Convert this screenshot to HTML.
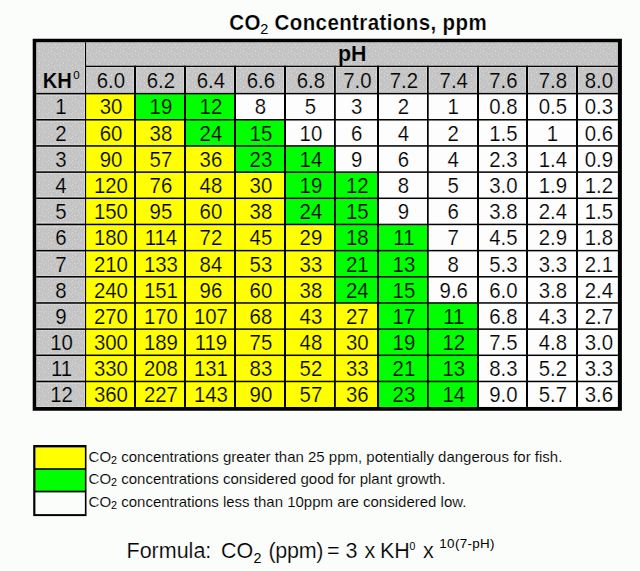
<!DOCTYPE html>
<html><head><meta charset="utf-8"><title>CO2 Concentrations, ppm</title>
<style>
html,body{margin:0;padding:0;background:#fbfdfb;}
body{width:640px;height:571px;overflow:hidden;position:relative;}
svg{position:absolute;left:0;top:0;}
svg text{font-family:"Liberation Sans",Arial,Helvetica,sans-serif;fill:#000;}
</style></head><body>
<svg width="640" height="571" viewBox="0 0 640 571">
<g font-weight="bold" font-size="20.5" letter-spacing="0.4" stroke="#fbfdfb" stroke-width="0.2" transform="translate(0 29.6) scale(1 1.06) translate(0 -29.6)">
<text x="229.2" y="29.6">CO</text>
<text x="260.3" y="33.8" font-size="14.5" font-weight="normal" letter-spacing="0" stroke="none">2</text>
<text x="274.6" y="29.6">Concentrations, ppm</text>
</g>
<defs><pattern id="dots" x="0" y="0" width="12" height="12" patternUnits="userSpaceOnUse"><rect width="12" height="12" fill="#c4c4c4"/><g fill="#d7d7d7"><rect x="0" y="1" width="1" height="1"/><rect x="0" y="4" width="1" height="1"/><rect x="0" y="8" width="1" height="1"/><rect x="2" y="11" width="1" height="1"/><rect x="3" y="2" width="1" height="1"/><rect x="3" y="3" width="1" height="1"/><rect x="3" y="6" width="1" height="1"/><rect x="5" y="11" width="1" height="1"/><rect x="6" y="5" width="1" height="1"/><rect x="6" y="7" width="1" height="1"/><rect x="7" y="9" width="1" height="1"/><rect x="8" y="0" width="1" height="1"/><rect x="9" y="5" width="1" height="1"/><rect x="9" y="11" width="1" height="1"/><rect x="11" y="6" width="1" height="1"/></g></pattern></defs>
<rect x="36.2" y="42.3" width="581.70" height="364.60" fill="url(#dots)"/>
<rect x="85.10" y="93.60" width="49.90" height="26.17" fill="#ffff00"/>
<rect x="135.00" y="93.60" width="50.00" height="26.17" fill="#00ff00"/>
<rect x="185.00" y="93.60" width="50.00" height="26.17" fill="#00ff00"/>
<rect x="235.00" y="93.60" width="50.00" height="26.17" fill="#fcfdfc"/>
<rect x="285.00" y="93.60" width="50.00" height="26.17" fill="#fcfdfc"/>
<rect x="334.80" y="93.60" width="43.20" height="26.17" fill="#fcfdfc"/>
<rect x="378.00" y="93.60" width="50.00" height="26.17" fill="#fcfdfc"/>
<rect x="427.70" y="93.60" width="50.30" height="26.17" fill="#fcfdfc"/>
<rect x="478.00" y="93.60" width="49.00" height="26.17" fill="#fcfdfc"/>
<rect x="527.00" y="93.60" width="50.00" height="26.17" fill="#fcfdfc"/>
<rect x="577.00" y="93.60" width="41.90" height="26.17" fill="#fcfdfc"/>
<rect x="85.10" y="119.77" width="49.90" height="26.17" fill="#ffff00"/>
<rect x="135.00" y="119.77" width="50.00" height="26.17" fill="#ffff00"/>
<rect x="185.00" y="119.77" width="50.00" height="26.17" fill="#00ff00"/>
<rect x="235.00" y="119.77" width="50.00" height="26.17" fill="#00ff00"/>
<rect x="285.00" y="119.77" width="50.00" height="26.17" fill="#fcfdfc"/>
<rect x="334.80" y="119.77" width="43.20" height="26.17" fill="#fcfdfc"/>
<rect x="378.00" y="119.77" width="50.00" height="26.17" fill="#fcfdfc"/>
<rect x="427.70" y="119.77" width="50.30" height="26.17" fill="#fcfdfc"/>
<rect x="478.00" y="119.77" width="49.00" height="26.17" fill="#fcfdfc"/>
<rect x="527.00" y="119.77" width="50.00" height="26.17" fill="#fcfdfc"/>
<rect x="577.00" y="119.77" width="41.90" height="26.17" fill="#fcfdfc"/>
<rect x="85.10" y="145.94" width="49.90" height="26.17" fill="#ffff00"/>
<rect x="135.00" y="145.94" width="50.00" height="26.17" fill="#ffff00"/>
<rect x="185.00" y="145.94" width="50.00" height="26.17" fill="#ffff00"/>
<rect x="235.00" y="145.94" width="50.00" height="26.17" fill="#00ff00"/>
<rect x="285.00" y="145.94" width="50.00" height="26.17" fill="#00ff00"/>
<rect x="334.80" y="145.94" width="43.20" height="26.17" fill="#fcfdfc"/>
<rect x="378.00" y="145.94" width="50.00" height="26.17" fill="#fcfdfc"/>
<rect x="427.70" y="145.94" width="50.30" height="26.17" fill="#fcfdfc"/>
<rect x="478.00" y="145.94" width="49.00" height="26.17" fill="#fcfdfc"/>
<rect x="527.00" y="145.94" width="50.00" height="26.17" fill="#fcfdfc"/>
<rect x="577.00" y="145.94" width="41.90" height="26.17" fill="#fcfdfc"/>
<rect x="85.10" y="172.11" width="49.90" height="26.17" fill="#ffff00"/>
<rect x="135.00" y="172.11" width="50.00" height="26.17" fill="#ffff00"/>
<rect x="185.00" y="172.11" width="50.00" height="26.17" fill="#ffff00"/>
<rect x="235.00" y="172.11" width="50.00" height="26.17" fill="#ffff00"/>
<rect x="285.00" y="172.11" width="50.00" height="26.17" fill="#00ff00"/>
<rect x="334.80" y="172.11" width="43.20" height="26.17" fill="#00ff00"/>
<rect x="378.00" y="172.11" width="50.00" height="26.17" fill="#fcfdfc"/>
<rect x="427.70" y="172.11" width="50.30" height="26.17" fill="#fcfdfc"/>
<rect x="478.00" y="172.11" width="49.00" height="26.17" fill="#fcfdfc"/>
<rect x="527.00" y="172.11" width="50.00" height="26.17" fill="#fcfdfc"/>
<rect x="577.00" y="172.11" width="41.90" height="26.17" fill="#fcfdfc"/>
<rect x="85.10" y="198.28" width="49.90" height="26.17" fill="#ffff00"/>
<rect x="135.00" y="198.28" width="50.00" height="26.17" fill="#ffff00"/>
<rect x="185.00" y="198.28" width="50.00" height="26.17" fill="#ffff00"/>
<rect x="235.00" y="198.28" width="50.00" height="26.17" fill="#ffff00"/>
<rect x="285.00" y="198.28" width="50.00" height="26.17" fill="#00ff00"/>
<rect x="334.80" y="198.28" width="43.20" height="26.17" fill="#00ff00"/>
<rect x="378.00" y="198.28" width="50.00" height="26.17" fill="#fcfdfc"/>
<rect x="427.70" y="198.28" width="50.30" height="26.17" fill="#fcfdfc"/>
<rect x="478.00" y="198.28" width="49.00" height="26.17" fill="#fcfdfc"/>
<rect x="527.00" y="198.28" width="50.00" height="26.17" fill="#fcfdfc"/>
<rect x="577.00" y="198.28" width="41.90" height="26.17" fill="#fcfdfc"/>
<rect x="85.10" y="224.45" width="49.90" height="26.17" fill="#ffff00"/>
<rect x="135.00" y="224.45" width="50.00" height="26.17" fill="#ffff00"/>
<rect x="185.00" y="224.45" width="50.00" height="26.17" fill="#ffff00"/>
<rect x="235.00" y="224.45" width="50.00" height="26.17" fill="#ffff00"/>
<rect x="285.00" y="224.45" width="50.00" height="26.17" fill="#ffff00"/>
<rect x="334.80" y="224.45" width="43.20" height="26.17" fill="#00ff00"/>
<rect x="378.00" y="224.45" width="50.00" height="26.17" fill="#00ff00"/>
<rect x="427.70" y="224.45" width="50.30" height="26.17" fill="#fcfdfc"/>
<rect x="478.00" y="224.45" width="49.00" height="26.17" fill="#fcfdfc"/>
<rect x="527.00" y="224.45" width="50.00" height="26.17" fill="#fcfdfc"/>
<rect x="577.00" y="224.45" width="41.90" height="26.17" fill="#fcfdfc"/>
<rect x="85.10" y="250.62" width="49.90" height="26.17" fill="#ffff00"/>
<rect x="135.00" y="250.62" width="50.00" height="26.17" fill="#ffff00"/>
<rect x="185.00" y="250.62" width="50.00" height="26.17" fill="#ffff00"/>
<rect x="235.00" y="250.62" width="50.00" height="26.17" fill="#ffff00"/>
<rect x="285.00" y="250.62" width="50.00" height="26.17" fill="#ffff00"/>
<rect x="334.80" y="250.62" width="43.20" height="26.17" fill="#00ff00"/>
<rect x="378.00" y="250.62" width="50.00" height="26.17" fill="#00ff00"/>
<rect x="427.70" y="250.62" width="50.30" height="26.17" fill="#fcfdfc"/>
<rect x="478.00" y="250.62" width="49.00" height="26.17" fill="#fcfdfc"/>
<rect x="527.00" y="250.62" width="50.00" height="26.17" fill="#fcfdfc"/>
<rect x="577.00" y="250.62" width="41.90" height="26.17" fill="#fcfdfc"/>
<rect x="85.10" y="276.79" width="49.90" height="26.17" fill="#ffff00"/>
<rect x="135.00" y="276.79" width="50.00" height="26.17" fill="#ffff00"/>
<rect x="185.00" y="276.79" width="50.00" height="26.17" fill="#ffff00"/>
<rect x="235.00" y="276.79" width="50.00" height="26.17" fill="#ffff00"/>
<rect x="285.00" y="276.79" width="50.00" height="26.17" fill="#ffff00"/>
<rect x="334.80" y="276.79" width="43.20" height="26.17" fill="#00ff00"/>
<rect x="378.00" y="276.79" width="50.00" height="26.17" fill="#00ff00"/>
<rect x="427.70" y="276.79" width="50.30" height="26.17" fill="#fcfdfc"/>
<rect x="478.00" y="276.79" width="49.00" height="26.17" fill="#fcfdfc"/>
<rect x="527.00" y="276.79" width="50.00" height="26.17" fill="#fcfdfc"/>
<rect x="577.00" y="276.79" width="41.90" height="26.17" fill="#fcfdfc"/>
<rect x="85.10" y="302.96" width="49.90" height="26.17" fill="#ffff00"/>
<rect x="135.00" y="302.96" width="50.00" height="26.17" fill="#ffff00"/>
<rect x="185.00" y="302.96" width="50.00" height="26.17" fill="#ffff00"/>
<rect x="235.00" y="302.96" width="50.00" height="26.17" fill="#ffff00"/>
<rect x="285.00" y="302.96" width="50.00" height="26.17" fill="#ffff00"/>
<rect x="334.80" y="302.96" width="43.20" height="26.17" fill="#ffff00"/>
<rect x="378.00" y="302.96" width="50.00" height="26.17" fill="#00ff00"/>
<rect x="427.70" y="302.96" width="50.30" height="26.17" fill="#00ff00"/>
<rect x="478.00" y="302.96" width="49.00" height="26.17" fill="#fcfdfc"/>
<rect x="527.00" y="302.96" width="50.00" height="26.17" fill="#fcfdfc"/>
<rect x="577.00" y="302.96" width="41.90" height="26.17" fill="#fcfdfc"/>
<rect x="85.10" y="329.13" width="49.90" height="26.17" fill="#ffff00"/>
<rect x="135.00" y="329.13" width="50.00" height="26.17" fill="#ffff00"/>
<rect x="185.00" y="329.13" width="50.00" height="26.17" fill="#ffff00"/>
<rect x="235.00" y="329.13" width="50.00" height="26.17" fill="#ffff00"/>
<rect x="285.00" y="329.13" width="50.00" height="26.17" fill="#ffff00"/>
<rect x="334.80" y="329.13" width="43.20" height="26.17" fill="#ffff00"/>
<rect x="378.00" y="329.13" width="50.00" height="26.17" fill="#00ff00"/>
<rect x="427.70" y="329.13" width="50.30" height="26.17" fill="#00ff00"/>
<rect x="478.00" y="329.13" width="49.00" height="26.17" fill="#fcfdfc"/>
<rect x="527.00" y="329.13" width="50.00" height="26.17" fill="#fcfdfc"/>
<rect x="577.00" y="329.13" width="41.90" height="26.17" fill="#fcfdfc"/>
<rect x="85.10" y="355.30" width="49.90" height="26.17" fill="#ffff00"/>
<rect x="135.00" y="355.30" width="50.00" height="26.17" fill="#ffff00"/>
<rect x="185.00" y="355.30" width="50.00" height="26.17" fill="#ffff00"/>
<rect x="235.00" y="355.30" width="50.00" height="26.17" fill="#ffff00"/>
<rect x="285.00" y="355.30" width="50.00" height="26.17" fill="#ffff00"/>
<rect x="334.80" y="355.30" width="43.20" height="26.17" fill="#ffff00"/>
<rect x="378.00" y="355.30" width="50.00" height="26.17" fill="#00ff00"/>
<rect x="427.70" y="355.30" width="50.30" height="26.17" fill="#00ff00"/>
<rect x="478.00" y="355.30" width="49.00" height="26.17" fill="#fcfdfc"/>
<rect x="527.00" y="355.30" width="50.00" height="26.17" fill="#fcfdfc"/>
<rect x="577.00" y="355.30" width="41.90" height="26.17" fill="#fcfdfc"/>
<rect x="85.10" y="381.47" width="49.90" height="25.43" fill="#ffff00"/>
<rect x="135.00" y="381.47" width="50.00" height="25.43" fill="#ffff00"/>
<rect x="185.00" y="381.47" width="50.00" height="25.43" fill="#ffff00"/>
<rect x="235.00" y="381.47" width="50.00" height="25.43" fill="#ffff00"/>
<rect x="285.00" y="381.47" width="50.00" height="25.43" fill="#ffff00"/>
<rect x="334.80" y="381.47" width="43.20" height="25.43" fill="#ffff00"/>
<rect x="378.00" y="381.47" width="50.00" height="25.43" fill="#00ff00"/>
<rect x="427.70" y="381.47" width="50.30" height="25.43" fill="#00ff00"/>
<rect x="478.00" y="381.47" width="49.00" height="25.43" fill="#fcfdfc"/>
<rect x="527.00" y="381.47" width="50.00" height="25.43" fill="#fcfdfc"/>
<rect x="577.00" y="381.47" width="41.90" height="25.43" fill="#fcfdfc"/>
<rect x="36.5" y="42.5" width="48" height="50" fill="none" stroke="#d3d3d3" stroke-width="1"/>
<rect x="86.5" y="42.5" width="531" height="23" fill="none" stroke="#d3d3d3" stroke-width="1"/>
<rect x="86.5" y="67.5" width="47" height="25" fill="none" stroke="#d3d3d3" stroke-width="1"/>
<rect x="136.5" y="67.5" width="47" height="25" fill="none" stroke="#d3d3d3" stroke-width="1"/>
<rect x="186.5" y="67.5" width="47" height="25" fill="none" stroke="#d3d3d3" stroke-width="1"/>
<rect x="236.5" y="67.5" width="47" height="25" fill="none" stroke="#d3d3d3" stroke-width="1"/>
<rect x="286.5" y="67.5" width="47" height="25" fill="none" stroke="#d3d3d3" stroke-width="1"/>
<rect x="336.5" y="67.5" width="40" height="25" fill="none" stroke="#d3d3d3" stroke-width="1"/>
<rect x="379.5" y="67.5" width="47" height="25" fill="none" stroke="#d3d3d3" stroke-width="1"/>
<rect x="429.5" y="67.5" width="47" height="25" fill="none" stroke="#d3d3d3" stroke-width="1"/>
<rect x="479.5" y="67.5" width="46" height="25" fill="none" stroke="#d3d3d3" stroke-width="1"/>
<rect x="528.5" y="67.5" width="47" height="25" fill="none" stroke="#d3d3d3" stroke-width="1"/>
<rect x="578.5" y="67.5" width="39" height="25" fill="none" stroke="#d3d3d3" stroke-width="1"/>
<rect x="36.5" y="95.5" width="48" height="23" fill="none" stroke="#d3d3d3" stroke-width="1"/>
<rect x="36.5" y="121.5" width="48" height="23" fill="none" stroke="#d3d3d3" stroke-width="1"/>
<rect x="36.5" y="147.5" width="48" height="23" fill="none" stroke="#d3d3d3" stroke-width="1"/>
<rect x="36.5" y="173.5" width="48" height="23" fill="none" stroke="#d3d3d3" stroke-width="1"/>
<rect x="36.5" y="199.5" width="48" height="23" fill="none" stroke="#d3d3d3" stroke-width="1"/>
<rect x="36.5" y="226.5" width="48" height="23" fill="none" stroke="#d3d3d3" stroke-width="1"/>
<rect x="36.5" y="252.5" width="48" height="23" fill="none" stroke="#d3d3d3" stroke-width="1"/>
<rect x="36.5" y="278.5" width="48" height="23" fill="none" stroke="#d3d3d3" stroke-width="1"/>
<rect x="36.5" y="304.5" width="48" height="23" fill="none" stroke="#d3d3d3" stroke-width="1"/>
<rect x="36.5" y="330.5" width="48" height="23" fill="none" stroke="#d3d3d3" stroke-width="1"/>
<rect x="36.5" y="356.5" width="48" height="23" fill="none" stroke="#d3d3d3" stroke-width="1"/>
<rect x="36.5" y="383.5" width="48" height="23" fill="none" stroke="#d3d3d3" stroke-width="1"/>
<rect x="85.0" y="42.3" width="1.1" height="364.60"/>
<rect x="134" y="65.7" width="2" height="341.20"/>
<rect x="184" y="65.7" width="2" height="341.20"/>
<rect x="234" y="65.7" width="2" height="341.20"/>
<rect x="284" y="65.7" width="2" height="341.20"/>
<rect x="334" y="65.7" width="1.8" height="341.20"/>
<rect x="377" y="65.7" width="2" height="341.20"/>
<rect x="427" y="65.7" width="1.7" height="341.20"/>
<rect x="477" y="65.7" width="2" height="341.20"/>
<rect x="526" y="65.7" width="2" height="341.20"/>
<rect x="576" y="65.7" width="2" height="341.20"/>
<rect x="85.0" y="65.7" width="532.90" height="1.3"/>
<rect x="36.2" y="92.85" width="581.70" height="1.5"/>
<rect x="36.2" y="119.02" width="581.70" height="1.5"/>
<rect x="36.2" y="145.19" width="581.70" height="1.5"/>
<rect x="36.2" y="171.36" width="581.70" height="1.5"/>
<rect x="36.2" y="197.53" width="581.70" height="1.5"/>
<rect x="36.2" y="223.70" width="581.70" height="1.5"/>
<rect x="36.2" y="249.87" width="581.70" height="1.5"/>
<rect x="36.2" y="276.04" width="581.70" height="1.5"/>
<rect x="36.2" y="302.21" width="581.70" height="1.5"/>
<rect x="36.2" y="328.38" width="581.70" height="1.5"/>
<rect x="36.2" y="354.55" width="581.70" height="1.5"/>
<rect x="36.2" y="380.72" width="581.70" height="1.5"/>
<path d="M32.7 38.7H621.9V410.8H32.7Z M36.2 42.3V406.9H617.9V42.3Z" fill-rule="evenodd"/>
<g font-size="21">
<text transform="translate(352.25 60.60) scale(1.02 1.04)" text-anchor="middle" stroke="#c5c5c5" stroke-width="0.2" font-weight="bold">pH</text>
<text transform="translate(42.80 87.80) scale(0.96 1.05)" text-anchor="start" stroke="#c5c5c5" stroke-width="0.2" font-weight="bold">KH</text>
<text x="73.3" y="78.8" font-size="11.5" stroke="none">0</text>
<text transform="translate(110.95 88.30) scale(0.97 1.05)" text-anchor="middle" stroke="#c5c5c5" stroke-width="0.2">6.0</text>
<text transform="translate(160.90 88.30) scale(0.97 1.05)" text-anchor="middle" stroke="#c5c5c5" stroke-width="0.2">6.2</text>
<text transform="translate(210.90 88.30) scale(0.97 1.05)" text-anchor="middle" stroke="#c5c5c5" stroke-width="0.2">6.4</text>
<text transform="translate(260.90 88.30) scale(0.97 1.05)" text-anchor="middle" stroke="#c5c5c5" stroke-width="0.2">6.6</text>
<text transform="translate(310.90 88.30) scale(0.97 1.05)" text-anchor="middle" stroke="#c5c5c5" stroke-width="0.2">6.8</text>
<text transform="translate(357.30 88.30) scale(0.97 1.05)" text-anchor="middle" stroke="#c5c5c5" stroke-width="0.2">7.0</text>
<text transform="translate(403.90 88.30) scale(0.97 1.05)" text-anchor="middle" stroke="#c5c5c5" stroke-width="0.2">7.2</text>
<text transform="translate(453.75 88.30) scale(0.97 1.05)" text-anchor="middle" stroke="#c5c5c5" stroke-width="0.2">7.4</text>
<text transform="translate(503.40 88.30) scale(0.97 1.05)" text-anchor="middle" stroke="#c5c5c5" stroke-width="0.2">7.6</text>
<text transform="translate(552.90 88.30) scale(0.97 1.05)" text-anchor="middle" stroke="#c5c5c5" stroke-width="0.2">7.8</text>
<text transform="translate(598.85 88.30) scale(0.97 1.05)" text-anchor="middle" stroke="#c5c5c5" stroke-width="0.2">8.0</text>
<text transform="translate(60.90 114.48) scale(0.97 1.05)" text-anchor="middle" stroke="#c5c5c5" stroke-width="0.2">1</text>
<text transform="translate(110.95 114.48) scale(0.97 1.05)" text-anchor="middle" stroke="#ffff00" stroke-width="0.2">30</text>
<text transform="translate(160.90 114.48) scale(0.97 1.05)" text-anchor="middle" stroke="#00ff00" stroke-width="0.2">19</text>
<text transform="translate(210.90 114.48) scale(0.97 1.05)" text-anchor="middle" stroke="#00ff00" stroke-width="0.2">12</text>
<text transform="translate(260.30 114.48) scale(0.97 1.05)" text-anchor="middle" stroke="#fcfdfc" stroke-width="0.2">8</text>
<text transform="translate(310.30 114.48) scale(0.97 1.05)" text-anchor="middle" stroke="#fcfdfc" stroke-width="0.2">5</text>
<text transform="translate(356.70 114.48) scale(0.97 1.05)" text-anchor="middle" stroke="#fcfdfc" stroke-width="0.2">3</text>
<text transform="translate(403.30 114.48) scale(0.97 1.05)" text-anchor="middle" stroke="#fcfdfc" stroke-width="0.2">2</text>
<text transform="translate(453.15 114.48) scale(0.97 1.05)" text-anchor="middle" stroke="#fcfdfc" stroke-width="0.2">1</text>
<text transform="translate(503.40 114.48) scale(0.97 1.05)" text-anchor="middle" stroke="#fcfdfc" stroke-width="0.2">0.8</text>
<text transform="translate(552.90 114.48) scale(0.97 1.05)" text-anchor="middle" stroke="#fcfdfc" stroke-width="0.2">0.5</text>
<text transform="translate(598.85 114.48) scale(0.97 1.05)" text-anchor="middle" stroke="#fcfdfc" stroke-width="0.2">0.3</text>
<text transform="translate(60.90 140.66) scale(0.97 1.05)" text-anchor="middle" stroke="#c5c5c5" stroke-width="0.2">2</text>
<text transform="translate(110.95 140.66) scale(0.97 1.05)" text-anchor="middle" stroke="#ffff00" stroke-width="0.2">60</text>
<text transform="translate(160.90 140.66) scale(0.97 1.05)" text-anchor="middle" stroke="#ffff00" stroke-width="0.2">38</text>
<text transform="translate(210.90 140.66) scale(0.97 1.05)" text-anchor="middle" stroke="#00ff00" stroke-width="0.2">24</text>
<text transform="translate(260.90 140.66) scale(0.97 1.05)" text-anchor="middle" stroke="#00ff00" stroke-width="0.2">15</text>
<text transform="translate(310.90 140.66) scale(0.97 1.05)" text-anchor="middle" stroke="#fcfdfc" stroke-width="0.2">10</text>
<text transform="translate(356.70 140.66) scale(0.97 1.05)" text-anchor="middle" stroke="#fcfdfc" stroke-width="0.2">6</text>
<text transform="translate(403.30 140.66) scale(0.97 1.05)" text-anchor="middle" stroke="#fcfdfc" stroke-width="0.2">4</text>
<text transform="translate(453.15 140.66) scale(0.97 1.05)" text-anchor="middle" stroke="#fcfdfc" stroke-width="0.2">2</text>
<text transform="translate(503.40 140.66) scale(0.97 1.05)" text-anchor="middle" stroke="#fcfdfc" stroke-width="0.2">1.5</text>
<text transform="translate(552.30 140.66) scale(0.97 1.05)" text-anchor="middle" stroke="#fcfdfc" stroke-width="0.2">1</text>
<text transform="translate(598.85 140.66) scale(0.97 1.05)" text-anchor="middle" stroke="#fcfdfc" stroke-width="0.2">0.6</text>
<text transform="translate(60.90 166.83) scale(0.97 1.05)" text-anchor="middle" stroke="#c5c5c5" stroke-width="0.2">3</text>
<text transform="translate(110.95 166.83) scale(0.97 1.05)" text-anchor="middle" stroke="#ffff00" stroke-width="0.2">90</text>
<text transform="translate(160.90 166.83) scale(0.97 1.05)" text-anchor="middle" stroke="#ffff00" stroke-width="0.2">57</text>
<text transform="translate(210.90 166.83) scale(0.97 1.05)" text-anchor="middle" stroke="#ffff00" stroke-width="0.2">36</text>
<text transform="translate(260.90 166.83) scale(0.97 1.05)" text-anchor="middle" stroke="#00ff00" stroke-width="0.2">23</text>
<text transform="translate(310.90 166.83) scale(0.97 1.05)" text-anchor="middle" stroke="#00ff00" stroke-width="0.2">14</text>
<text transform="translate(356.70 166.83) scale(0.97 1.05)" text-anchor="middle" stroke="#fcfdfc" stroke-width="0.2">9</text>
<text transform="translate(403.30 166.83) scale(0.97 1.05)" text-anchor="middle" stroke="#fcfdfc" stroke-width="0.2">6</text>
<text transform="translate(453.15 166.83) scale(0.97 1.05)" text-anchor="middle" stroke="#fcfdfc" stroke-width="0.2">4</text>
<text transform="translate(503.40 166.83) scale(0.97 1.05)" text-anchor="middle" stroke="#fcfdfc" stroke-width="0.2">2.3</text>
<text transform="translate(552.90 166.83) scale(0.97 1.05)" text-anchor="middle" stroke="#fcfdfc" stroke-width="0.2">1.4</text>
<text transform="translate(598.85 166.83) scale(0.97 1.05)" text-anchor="middle" stroke="#fcfdfc" stroke-width="0.2">0.9</text>
<text transform="translate(60.90 193.00) scale(0.97 1.05)" text-anchor="middle" stroke="#c5c5c5" stroke-width="0.2">4</text>
<text transform="translate(110.95 193.00) scale(0.97 1.05)" text-anchor="middle" stroke="#ffff00" stroke-width="0.2">120</text>
<text transform="translate(160.90 193.00) scale(0.97 1.05)" text-anchor="middle" stroke="#ffff00" stroke-width="0.2">76</text>
<text transform="translate(210.90 193.00) scale(0.97 1.05)" text-anchor="middle" stroke="#ffff00" stroke-width="0.2">48</text>
<text transform="translate(260.90 193.00) scale(0.97 1.05)" text-anchor="middle" stroke="#ffff00" stroke-width="0.2">30</text>
<text transform="translate(310.90 193.00) scale(0.97 1.05)" text-anchor="middle" stroke="#00ff00" stroke-width="0.2">19</text>
<text transform="translate(357.30 193.00) scale(0.97 1.05)" text-anchor="middle" stroke="#00ff00" stroke-width="0.2">12</text>
<text transform="translate(403.30 193.00) scale(0.97 1.05)" text-anchor="middle" stroke="#fcfdfc" stroke-width="0.2">8</text>
<text transform="translate(453.15 193.00) scale(0.97 1.05)" text-anchor="middle" stroke="#fcfdfc" stroke-width="0.2">5</text>
<text transform="translate(503.40 193.00) scale(0.97 1.05)" text-anchor="middle" stroke="#fcfdfc" stroke-width="0.2">3.0</text>
<text transform="translate(552.90 193.00) scale(0.97 1.05)" text-anchor="middle" stroke="#fcfdfc" stroke-width="0.2">1.9</text>
<text transform="translate(598.85 193.00) scale(0.97 1.05)" text-anchor="middle" stroke="#fcfdfc" stroke-width="0.2">1.2</text>
<text transform="translate(60.90 219.17) scale(0.97 1.05)" text-anchor="middle" stroke="#c5c5c5" stroke-width="0.2">5</text>
<text transform="translate(110.95 219.17) scale(0.97 1.05)" text-anchor="middle" stroke="#ffff00" stroke-width="0.2">150</text>
<text transform="translate(160.90 219.17) scale(0.97 1.05)" text-anchor="middle" stroke="#ffff00" stroke-width="0.2">95</text>
<text transform="translate(210.90 219.17) scale(0.97 1.05)" text-anchor="middle" stroke="#ffff00" stroke-width="0.2">60</text>
<text transform="translate(260.90 219.17) scale(0.97 1.05)" text-anchor="middle" stroke="#ffff00" stroke-width="0.2">38</text>
<text transform="translate(310.90 219.17) scale(0.97 1.05)" text-anchor="middle" stroke="#00ff00" stroke-width="0.2">24</text>
<text transform="translate(357.30 219.17) scale(0.97 1.05)" text-anchor="middle" stroke="#00ff00" stroke-width="0.2">15</text>
<text transform="translate(403.30 219.17) scale(0.97 1.05)" text-anchor="middle" stroke="#fcfdfc" stroke-width="0.2">9</text>
<text transform="translate(453.15 219.17) scale(0.97 1.05)" text-anchor="middle" stroke="#fcfdfc" stroke-width="0.2">6</text>
<text transform="translate(503.40 219.17) scale(0.97 1.05)" text-anchor="middle" stroke="#fcfdfc" stroke-width="0.2">3.8</text>
<text transform="translate(552.90 219.17) scale(0.97 1.05)" text-anchor="middle" stroke="#fcfdfc" stroke-width="0.2">2.4</text>
<text transform="translate(598.85 219.17) scale(0.97 1.05)" text-anchor="middle" stroke="#fcfdfc" stroke-width="0.2">1.5</text>
<text transform="translate(60.90 245.34) scale(0.97 1.05)" text-anchor="middle" stroke="#c5c5c5" stroke-width="0.2">6</text>
<text transform="translate(110.95 245.34) scale(0.97 1.05)" text-anchor="middle" stroke="#ffff00" stroke-width="0.2">180</text>
<text transform="translate(160.90 245.34) scale(0.97 1.05)" text-anchor="middle" stroke="#ffff00" stroke-width="0.2">114</text>
<text transform="translate(210.90 245.34) scale(0.97 1.05)" text-anchor="middle" stroke="#ffff00" stroke-width="0.2">72</text>
<text transform="translate(260.90 245.34) scale(0.97 1.05)" text-anchor="middle" stroke="#ffff00" stroke-width="0.2">45</text>
<text transform="translate(310.90 245.34) scale(0.97 1.05)" text-anchor="middle" stroke="#ffff00" stroke-width="0.2">29</text>
<text transform="translate(357.30 245.34) scale(0.97 1.05)" text-anchor="middle" stroke="#00ff00" stroke-width="0.2">18</text>
<text transform="translate(403.90 245.34) scale(0.97 1.05)" text-anchor="middle" stroke="#00ff00" stroke-width="0.2">11</text>
<text transform="translate(453.15 245.34) scale(0.97 1.05)" text-anchor="middle" stroke="#fcfdfc" stroke-width="0.2">7</text>
<text transform="translate(503.40 245.34) scale(0.97 1.05)" text-anchor="middle" stroke="#fcfdfc" stroke-width="0.2">4.5</text>
<text transform="translate(552.90 245.34) scale(0.97 1.05)" text-anchor="middle" stroke="#fcfdfc" stroke-width="0.2">2.9</text>
<text transform="translate(598.85 245.34) scale(0.97 1.05)" text-anchor="middle" stroke="#fcfdfc" stroke-width="0.2">1.8</text>
<text transform="translate(60.90 271.50) scale(0.97 1.05)" text-anchor="middle" stroke="#c5c5c5" stroke-width="0.2">7</text>
<text transform="translate(110.95 271.50) scale(0.97 1.05)" text-anchor="middle" stroke="#ffff00" stroke-width="0.2">210</text>
<text transform="translate(160.90 271.50) scale(0.97 1.05)" text-anchor="middle" stroke="#ffff00" stroke-width="0.2">133</text>
<text transform="translate(210.90 271.50) scale(0.97 1.05)" text-anchor="middle" stroke="#ffff00" stroke-width="0.2">84</text>
<text transform="translate(260.90 271.50) scale(0.97 1.05)" text-anchor="middle" stroke="#ffff00" stroke-width="0.2">53</text>
<text transform="translate(310.90 271.50) scale(0.97 1.05)" text-anchor="middle" stroke="#ffff00" stroke-width="0.2">33</text>
<text transform="translate(357.30 271.50) scale(0.97 1.05)" text-anchor="middle" stroke="#00ff00" stroke-width="0.2">21</text>
<text transform="translate(403.90 271.50) scale(0.97 1.05)" text-anchor="middle" stroke="#00ff00" stroke-width="0.2">13</text>
<text transform="translate(453.15 271.50) scale(0.97 1.05)" text-anchor="middle" stroke="#fcfdfc" stroke-width="0.2">8</text>
<text transform="translate(503.40 271.50) scale(0.97 1.05)" text-anchor="middle" stroke="#fcfdfc" stroke-width="0.2">5.3</text>
<text transform="translate(552.90 271.50) scale(0.97 1.05)" text-anchor="middle" stroke="#fcfdfc" stroke-width="0.2">3.3</text>
<text transform="translate(598.85 271.50) scale(0.97 1.05)" text-anchor="middle" stroke="#fcfdfc" stroke-width="0.2">2.1</text>
<text transform="translate(60.90 297.68) scale(0.97 1.05)" text-anchor="middle" stroke="#c5c5c5" stroke-width="0.2">8</text>
<text transform="translate(110.95 297.68) scale(0.97 1.05)" text-anchor="middle" stroke="#ffff00" stroke-width="0.2">240</text>
<text transform="translate(160.90 297.68) scale(0.97 1.05)" text-anchor="middle" stroke="#ffff00" stroke-width="0.2">151</text>
<text transform="translate(210.90 297.68) scale(0.97 1.05)" text-anchor="middle" stroke="#ffff00" stroke-width="0.2">96</text>
<text transform="translate(260.90 297.68) scale(0.97 1.05)" text-anchor="middle" stroke="#ffff00" stroke-width="0.2">60</text>
<text transform="translate(310.90 297.68) scale(0.97 1.05)" text-anchor="middle" stroke="#ffff00" stroke-width="0.2">38</text>
<text transform="translate(357.30 297.68) scale(0.97 1.05)" text-anchor="middle" stroke="#00ff00" stroke-width="0.2">24</text>
<text transform="translate(403.90 297.68) scale(0.97 1.05)" text-anchor="middle" stroke="#00ff00" stroke-width="0.2">15</text>
<text transform="translate(453.75 297.68) scale(0.97 1.05)" text-anchor="middle" stroke="#fcfdfc" stroke-width="0.2">9.6</text>
<text transform="translate(503.40 297.68) scale(0.97 1.05)" text-anchor="middle" stroke="#fcfdfc" stroke-width="0.2">6.0</text>
<text transform="translate(552.90 297.68) scale(0.97 1.05)" text-anchor="middle" stroke="#fcfdfc" stroke-width="0.2">3.8</text>
<text transform="translate(598.85 297.68) scale(0.97 1.05)" text-anchor="middle" stroke="#fcfdfc" stroke-width="0.2">2.4</text>
<text transform="translate(60.90 323.85) scale(0.97 1.05)" text-anchor="middle" stroke="#c5c5c5" stroke-width="0.2">9</text>
<text transform="translate(110.95 323.85) scale(0.97 1.05)" text-anchor="middle" stroke="#ffff00" stroke-width="0.2">270</text>
<text transform="translate(160.90 323.85) scale(0.97 1.05)" text-anchor="middle" stroke="#ffff00" stroke-width="0.2">170</text>
<text transform="translate(210.90 323.85) scale(0.97 1.05)" text-anchor="middle" stroke="#ffff00" stroke-width="0.2">107</text>
<text transform="translate(260.90 323.85) scale(0.97 1.05)" text-anchor="middle" stroke="#ffff00" stroke-width="0.2">68</text>
<text transform="translate(310.90 323.85) scale(0.97 1.05)" text-anchor="middle" stroke="#ffff00" stroke-width="0.2">43</text>
<text transform="translate(357.30 323.85) scale(0.97 1.05)" text-anchor="middle" stroke="#ffff00" stroke-width="0.2">27</text>
<text transform="translate(403.90 323.85) scale(0.97 1.05)" text-anchor="middle" stroke="#00ff00" stroke-width="0.2">17</text>
<text transform="translate(453.75 323.85) scale(0.97 1.05)" text-anchor="middle" stroke="#00ff00" stroke-width="0.2">11</text>
<text transform="translate(503.40 323.85) scale(0.97 1.05)" text-anchor="middle" stroke="#fcfdfc" stroke-width="0.2">6.8</text>
<text transform="translate(552.90 323.85) scale(0.97 1.05)" text-anchor="middle" stroke="#fcfdfc" stroke-width="0.2">4.3</text>
<text transform="translate(598.85 323.85) scale(0.97 1.05)" text-anchor="middle" stroke="#fcfdfc" stroke-width="0.2">2.7</text>
<text transform="translate(61.50 350.02) scale(0.97 1.05)" text-anchor="middle" stroke="#c5c5c5" stroke-width="0.2">10</text>
<text transform="translate(110.95 350.02) scale(0.97 1.05)" text-anchor="middle" stroke="#ffff00" stroke-width="0.2">300</text>
<text transform="translate(160.90 350.02) scale(0.97 1.05)" text-anchor="middle" stroke="#ffff00" stroke-width="0.2">189</text>
<text transform="translate(210.90 350.02) scale(0.97 1.05)" text-anchor="middle" stroke="#ffff00" stroke-width="0.2">119</text>
<text transform="translate(260.90 350.02) scale(0.97 1.05)" text-anchor="middle" stroke="#ffff00" stroke-width="0.2">75</text>
<text transform="translate(310.90 350.02) scale(0.97 1.05)" text-anchor="middle" stroke="#ffff00" stroke-width="0.2">48</text>
<text transform="translate(357.30 350.02) scale(0.97 1.05)" text-anchor="middle" stroke="#ffff00" stroke-width="0.2">30</text>
<text transform="translate(403.90 350.02) scale(0.97 1.05)" text-anchor="middle" stroke="#00ff00" stroke-width="0.2">19</text>
<text transform="translate(453.75 350.02) scale(0.97 1.05)" text-anchor="middle" stroke="#00ff00" stroke-width="0.2">12</text>
<text transform="translate(503.40 350.02) scale(0.97 1.05)" text-anchor="middle" stroke="#fcfdfc" stroke-width="0.2">7.5</text>
<text transform="translate(552.90 350.02) scale(0.97 1.05)" text-anchor="middle" stroke="#fcfdfc" stroke-width="0.2">4.8</text>
<text transform="translate(598.85 350.02) scale(0.97 1.05)" text-anchor="middle" stroke="#fcfdfc" stroke-width="0.2">3.0</text>
<text transform="translate(61.50 376.19) scale(0.97 1.05)" text-anchor="middle" stroke="#c5c5c5" stroke-width="0.2">11</text>
<text transform="translate(110.95 376.19) scale(0.97 1.05)" text-anchor="middle" stroke="#ffff00" stroke-width="0.2">330</text>
<text transform="translate(160.90 376.19) scale(0.97 1.05)" text-anchor="middle" stroke="#ffff00" stroke-width="0.2">208</text>
<text transform="translate(210.90 376.19) scale(0.97 1.05)" text-anchor="middle" stroke="#ffff00" stroke-width="0.2">131</text>
<text transform="translate(260.90 376.19) scale(0.97 1.05)" text-anchor="middle" stroke="#ffff00" stroke-width="0.2">83</text>
<text transform="translate(310.90 376.19) scale(0.97 1.05)" text-anchor="middle" stroke="#ffff00" stroke-width="0.2">52</text>
<text transform="translate(357.30 376.19) scale(0.97 1.05)" text-anchor="middle" stroke="#ffff00" stroke-width="0.2">33</text>
<text transform="translate(403.90 376.19) scale(0.97 1.05)" text-anchor="middle" stroke="#00ff00" stroke-width="0.2">21</text>
<text transform="translate(453.75 376.19) scale(0.97 1.05)" text-anchor="middle" stroke="#00ff00" stroke-width="0.2">13</text>
<text transform="translate(503.40 376.19) scale(0.97 1.05)" text-anchor="middle" stroke="#fcfdfc" stroke-width="0.2">8.3</text>
<text transform="translate(552.90 376.19) scale(0.97 1.05)" text-anchor="middle" stroke="#fcfdfc" stroke-width="0.2">5.2</text>
<text transform="translate(598.85 376.19) scale(0.97 1.05)" text-anchor="middle" stroke="#fcfdfc" stroke-width="0.2">3.3</text>
<text transform="translate(61.50 401.99) scale(0.97 1.05)" text-anchor="middle" stroke="#c5c5c5" stroke-width="0.2">12</text>
<text transform="translate(110.95 401.99) scale(0.97 1.05)" text-anchor="middle" stroke="#ffff00" stroke-width="0.2">360</text>
<text transform="translate(160.90 401.99) scale(0.97 1.05)" text-anchor="middle" stroke="#ffff00" stroke-width="0.2">227</text>
<text transform="translate(210.90 401.99) scale(0.97 1.05)" text-anchor="middle" stroke="#ffff00" stroke-width="0.2">143</text>
<text transform="translate(260.90 401.99) scale(0.97 1.05)" text-anchor="middle" stroke="#ffff00" stroke-width="0.2">90</text>
<text transform="translate(310.90 401.99) scale(0.97 1.05)" text-anchor="middle" stroke="#ffff00" stroke-width="0.2">57</text>
<text transform="translate(357.30 401.99) scale(0.97 1.05)" text-anchor="middle" stroke="#ffff00" stroke-width="0.2">36</text>
<text transform="translate(403.90 401.99) scale(0.97 1.05)" text-anchor="middle" stroke="#00ff00" stroke-width="0.2">23</text>
<text transform="translate(453.75 401.99) scale(0.97 1.05)" text-anchor="middle" stroke="#00ff00" stroke-width="0.2">14</text>
<text transform="translate(503.40 401.99) scale(0.97 1.05)" text-anchor="middle" stroke="#fcfdfc" stroke-width="0.2">9.0</text>
<text transform="translate(552.90 401.99) scale(0.97 1.05)" text-anchor="middle" stroke="#fcfdfc" stroke-width="0.2">5.7</text>
<text transform="translate(598.85 401.99) scale(0.97 1.05)" text-anchor="middle" stroke="#fcfdfc" stroke-width="0.2">3.6</text>
</g>
<!-- legend -->
<rect x="33.2" y="445" width="53.3" height="71.1"/>
<rect x="35.4" y="447.4" width="49.5" height="20.8" fill="#ffff00"/>
<rect x="35.4" y="469.8" width="49.5" height="20.9" fill="#00ff00"/>
<rect x="35.4" y="492.4" width="49.5" height="21.7" fill="#fbfdfb"/>
<g font-size="15" stroke="#fbfdfb" stroke-width="0.12">
<text x="88.6" y="461.9">CO<tspan font-size="10.7" dy="2" stroke="none">2</tspan><tspan dy="-2"> concentrations greater than 25 ppm, potentially dangerous for fish.</tspan></text>
<text x="88.6" y="484.4">CO<tspan font-size="10.7" dy="2" stroke="none">2</tspan><tspan dy="-2"> concentrations considered good for plant growth.</tspan></text>
<text x="88.6" y="506.9">CO<tspan font-size="10.7" dy="2" stroke="none">2</tspan><tspan dy="-2"> concentrations less than 10ppm are considered low.</tspan></text>
</g>
<g font-size="21.5" stroke="#fbfdfb" stroke-width="0.2">
<text x="126.5" y="558.2">Formula:</text>
<text x="221" y="558.2">CO</text>
<text x="253.6" y="562.6" font-size="14.3" stroke="none">2</text>
<text x="268.5" y="558.2" letter-spacing="-0.3">(ppm)</text>
<text x="327" y="558.2">=</text>
<text x="345.5" y="558.2">3</text>
<text x="364.5" y="558.2">x</text>
<text x="380" y="558.2">KH</text>
<text x="409.5" y="549.5" font-size="10.5" stroke="none">0</text>
<text x="423" y="558.2">x</text>
<text x="439.3" y="548" font-size="13.4" letter-spacing="0.35" stroke="none">10(7-pH)</text>
</g>
</svg>
</body></html>
